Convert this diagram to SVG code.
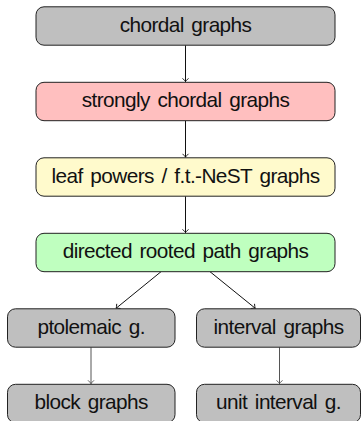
<svg xmlns="http://www.w3.org/2000/svg" width="362" height="421" viewBox="0 0 362 421">
<style>
.box{stroke:#222;stroke-width:1}
.lbl{font-family:"Liberation Sans",Arial,sans-serif;font-size:20.8px;letter-spacing:-0.6px;word-spacing:2.5px;fill:#111;text-anchor:middle}
.edge{fill:none;stroke:#111;stroke-width:1}
.edge.g{stroke:#555}
</style>
<defs>
<marker id="arr" viewBox="-4 -4 5 8" refX="0.5" refY="0" markerWidth="5" markerHeight="8" markerUnits="userSpaceOnUse" orient="auto">
<path d="M-3.2,-3 Q-0.8,-0.6 0,0 Q-0.8,0.6 -3.2,3" fill="none" stroke="#111" stroke-width="0.9"/>
</marker>
<marker id="arrg" viewBox="-4 -4 5 8" refX="0.5" refY="0" markerWidth="5" markerHeight="8" markerUnits="userSpaceOnUse" orient="auto">
<path d="M-3.2,-3 Q-0.8,-0.6 0,0 Q-0.8,0.6 -3.2,3" fill="none" stroke="#555" stroke-width="0.9"/>
</marker>
</defs>
<g id="connectors">
<line class="edge" x1="185.5" y1="45.2" x2="185.5" y2="82" marker-end="url(#arr)"/>
<line class="edge" x1="185.5" y1="120.7" x2="185.5" y2="157.5" marker-end="url(#arr)"/>
<line class="edge" x1="185.5" y1="196.2" x2="185.5" y2="233" marker-end="url(#arr)"/>
<line class="edge" x1="161" y1="271.7" x2="115.8" y2="308.5" marker-end="url(#arr)"/>
<line class="edge" x1="210" y1="271.7" x2="255.5" y2="308.5" marker-end="url(#arr)"/>
<line class="edge g" x1="91" y1="347.2" x2="91" y2="384" marker-end="url(#arrg)"/>
<line class="edge g" x1="279.5" y1="347.2" x2="279.5" y2="384" marker-end="url(#arrg)"/>
</g>
<g id="chordal">
<rect class="box" x="36" y="6.8" width="299" height="38.4" rx="8" fill="#bfbfbf"/>
<text class="lbl" x="185.5" y="31.6">chordal graphs</text>
</g>
<g id="strongly-chordal">
<rect class="box" x="36" y="82.3" width="299" height="38.4" rx="8" fill="#ffbfbf"/>
<text class="lbl" x="185.5" y="107.1">strongly chordal graphs</text>
</g>
<g id="leaf-powers">
<rect class="box" x="36" y="157.8" width="299" height="38.4" rx="8" fill="#fffacc"/>
<text class="lbl" x="185.5" y="182.6">leaf powers / f.t.-NeST graphs</text>
</g>
<g id="directed-rooted-path">
<rect class="box" x="36" y="233.3" width="299" height="38.4" rx="8" fill="#bfffbf"/>
<text class="lbl" x="185.5" y="258.1">directed rooted path graphs</text>
</g>
<g id="ptolemaic">
<rect class="box" x="7.5" y="308.8" width="167.5" height="38.4" rx="8" fill="#bfbfbf"/>
<text class="lbl" x="91.2" y="333.6">ptolemaic g.</text>
</g>
<g id="interval">
<rect class="box" x="196.5" y="308.8" width="164" height="38.4" rx="8" fill="#bfbfbf"/>
<text class="lbl" x="278.5" y="333.6">interval graphs</text>
</g>
<g id="block">
<rect class="box" x="7.5" y="384.3" width="167.5" height="38.4" rx="8" fill="#bfbfbf"/>
<text class="lbl" x="91.2" y="409.1">block graphs</text>
</g>
<g id="unit-interval">
<rect class="box" x="196.5" y="384.3" width="164" height="38.4" rx="8" fill="#bfbfbf"/>
<text class="lbl" x="278.5" y="409.1">unit interval g.</text>
</g>
</svg>
